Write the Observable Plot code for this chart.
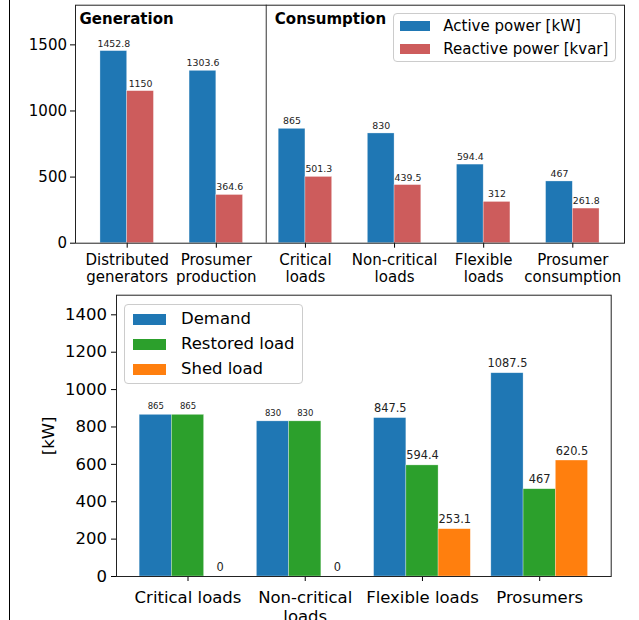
<!DOCTYPE html>
<html><head><meta charset="utf-8">
<script src="https://cdn.jsdelivr.net/npm/d3@7"></script>
<script src="https://cdn.jsdelivr.net/npm/@observablehq/plot@0.6"></script>
<style>
body{margin:0;background:#fff;font-family:"DejaVu Sans",sans-serif;}
#wrap{position:relative;width:639px;height:620px;overflow:hidden;background:#fff;}
#top{position:absolute;left:0;top:0;}
#bottom{position:absolute;left:0;top:290px;}
#vline{position:absolute;left:8.5px;top:0;width:1px;height:620px;background:#000;}
.legend{position:absolute;background:rgba(255,255,255,0.85);border:1px solid #ccc;border-radius:4px;box-sizing:border-box;font-family:"DejaVu Sans",sans-serif;color:#000;}
.legend .sw{position:absolute;}
.legend .lb{position:absolute;white-space:nowrap;}
</style></head><body>
<div id="wrap"><div id="top"></div><div id="bottom"></div><div id="vline"></div></div>
<script>
// ---- Top chart data ----
const topCategories = ["Distributed\ngenerators","Prosumer\nproduction","Critical\nloads","Non-critical\nloads","Flexible\nloads","Prosumer\nconsumption"];
const activePower = [1452.8, 1303.6, 865, 830, 594.4, 467];
const reactivePower = [1150, 364.6, 501.3, 439.5, 312, 261.8];
const topSeries = ["Active power [kW]", "Reactive power [kvar]"];
const topColors = ["#1f77b4", "#cd5c5c"];
const topTicks = [0, 500, 1000, 1500];
const sectionTitles = ["Generation", "Consumption"];

// ---- Bottom chart data ----
const bottomCategories = ["Critical loads", "Non-critical\nloads", "Flexible loads", "Prosumers"];
const demand = [865, 830, 847.5, 1087.5];
const restored = [865, 830, 594.4, 467];
const shed = [0, 0, 253.1, 620.5];
const bottomSeries = ["Demand", "Restored load", "Shed load"];
const bottomColors = ["#1f77b4", "#2ca02c", "#ff7f0e"];
const bottomTicks = [0, 200, 400, 600, 800, 1000, 1200, 1400];

const W1 = 0.3;
const topData = topCategories.flatMap((c, i) =>
  [activePower[i], reactivePower[i]].map((v, s) => ({
    i, s, series: topSeries[s], value: v,
    x1: i + (s - 1) * W1, x2: i + s * W1, xm: i + (s - 0.5) * W1
  })));

const font = "DejaVu Sans";

const topPlot = Plot.plot({
  width: 639, height: 290,
  marginLeft: 75, marginRight: 15, marginTop: 4.7, marginBottom: 47.3,
  style: {fontFamily: font, fontSize: "15px", background: "white", color: "black", overflow: "visible"},
  x: {type: "linear", domain: [-0.58, 5.58]},
  y: {domain: [0, 1800]},
  color: {domain: topSeries, range: topColors},
  marks: [
    Plot.rectY(topData, {x1: "x1", x2: "x2", y: "value", fill: "series", stroke: "white", strokeOpacity: 0.5, strokeWidth: 0.6}),
    Plot.text(topData, {x: "xm", y: "value", text: d => String(d.value), lineAnchor: "bottom", dy: -4.5, fontSize: 9.4, fill: "#222"}),
    Plot.ruleX([1.56], {stroke: "#333", strokeWidth: 1}),
    Plot.text([sectionTitles[0]], {x: -0.58, y: 1800, text: d => d, textAnchor: "start", lineAnchor: "top", dx: 4, dy: 8.5, fontWeight: "bold", fontSize: 15}),
    Plot.text([sectionTitles[1]], {x: 1.56, y: 1800, text: d => d, textAnchor: "start", lineAnchor: "top", dx: 8.6, dy: 8.5, fontWeight: "bold", fontSize: 15}),
    Plot.axisX({ticks: d3.range(topCategories.length), tickFormat: i => topCategories[i], tickSize: 5, tickPadding: 4, fontSize: 15, lineHeight: 1.17, label: null}),
    Plot.axisY({ticks: topTicks, tickSize: 5, tickPadding: 3.5, fontSize: 15, label: null, tickFormat: d => String(d)}),
    Plot.frame({stroke: "#222", strokeWidth: 1})
  ]
});
document.getElementById("top").appendChild(topPlot);

const W2 = 0.275;
const bottomData = bottomCategories.flatMap((c, i) =>
  [demand[i], restored[i], shed[i]].map((v, s) => ({
    i, s, series: bottomSeries[s], value: v,
    x1: i + (s - 1.5) * W2, x2: i + (s - 0.5) * W2, xm: i + (s - 1) * W2,
    small: i < 2 && s < 2
  })));

const bottomPlot = Plot.plot({
  width: 639, height: 330,
  marginLeft: 116, marginRight: 28.3, marginTop: 4.7, marginBottom: 44,
  style: {fontFamily: font, fontSize: "16.5px", background: "white", color: "black", overflow: "visible"},
  x: {type: "linear", domain: [-0.61, 3.61]},
  y: {domain: [0, 1505]},
  color: {domain: bottomSeries, range: bottomColors},
  marks: [
    Plot.rectY(bottomData, {x1: "x1", x2: "x2", y: "value", fill: "series", stroke: "white", strokeOpacity: 0.5, strokeWidth: 0.6}),
    Plot.text(bottomData.filter(d => d.small), {x: "xm", y: "value", text: d => String(d.value), lineAnchor: "bottom", dy: -5.7, fontSize: 8.5, fill: "#222"}),
    Plot.text(bottomData.filter(d => !d.small), {x: "xm", y: "value", text: d => String(d.value), lineAnchor: "bottom", dy: -6, fontSize: 11.4, fill: "#222"}),
    Plot.text(["[kW]"], {text: d => d, frameAnchor: "left", dx: -68, rotate: -90, textAnchor: "middle", lineAnchor: "middle", fontSize: 16.5}),
    Plot.axisX({ticks: d3.range(bottomCategories.length), tickFormat: i => bottomCategories[i], tickSize: 5, tickPadding: 8, fontSize: 16.5, lineHeight: 1.15, label: null}),
    Plot.axisY({ticks: bottomTicks, tickSize: 5, tickPadding: 4.5, fontSize: 16.5, label: null, tickFormat: d => String(d)}),
    Plot.frame({stroke: "#222", strokeWidth: 1})
  ]
});
document.getElementById("bottom").appendChild(bottomPlot);

// ---- Legends (matplotlib style boxes) ----
function legend(labels, colors, box, sw, rows, textX, fontSize) {
  const el = document.createElement("div");
  el.className = "legend";
  Object.assign(el.style, {left: box.x + "px", top: box.y + "px", width: box.w + "px", height: box.h + "px", fontSize: fontSize + "px"});
  labels.forEach((lab, k) => {
    const s = document.createElement("div");
    s.className = "sw";
    Object.assign(s.style, {left: sw.x + "px", top: (rows[k] - sw.h / 2) + "px", width: sw.w + "px", height: sw.h + "px", background: colors[k]});
    el.appendChild(s);
    const t = document.createElement("div");
    t.className = "lb";
    t.textContent = lab;
    Object.assign(t.style, {left: textX + "px", top: (rows[k] - fontSize * 0.6) + "px", lineHeight: (fontSize * 1.2) + "px"});
    el.appendChild(t);
  });
  document.getElementById("wrap").appendChild(el);
}
legend(topSeries, topColors, {x: 393.3, y: 12.7, w: 222.7, h: 49.6}, {x: 5.7, w: 30, h: 10}, [12.3, 35], 49, 15);
legend(bottomSeries, bottomColors, {x: 124.3, y: 304, w: 178.4, h: 80.3}, {x: 7.7, w: 33, h: 11}, [14.3, 39, 64], 55.7, 16.5);
</script>
</body></html>
